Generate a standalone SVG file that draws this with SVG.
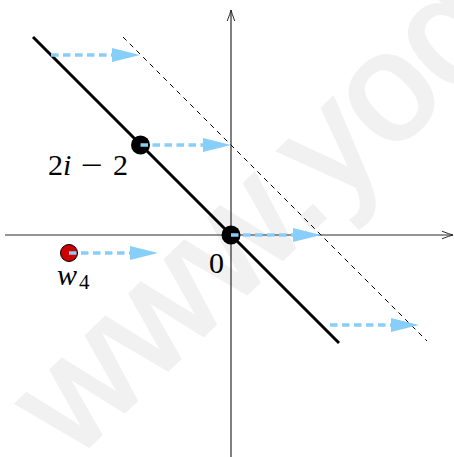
<svg xmlns="http://www.w3.org/2000/svg" width="454" height="457" viewBox="0 0 454 457">
  <style>
    .wm { font-family: "Liberation Sans", Arial, sans-serif; font-size: 152px; fill: #f1f1f1; stroke: #f1f1f1; stroke-width: 4; }
    .axis { stroke: #2a2a2a; stroke-width: 1.2; fill: none; }
    .solid { stroke: #000; stroke-width: 3; fill: none; }
    .thin { stroke: #000; stroke-width: 1; stroke-dasharray: 5 4.5; fill: none; }
    .shift { stroke: #87cefa; stroke-width: 3.5; stroke-dasharray: 7.5 4.5; fill: none; }
    .dot { fill: #000; }
    .red { fill: #cc0000; stroke: #000; stroke-width: 1; }
    .lbl { font-family: "Liberation Serif", "Times New Roman", serif; font-size: 30px; fill: #000; }
    .it { font-style: italic; }
  </style>
  <defs>
    <marker id="blueHead" markerUnits="userSpaceOnUse" markerWidth="30" markerHeight="16" viewBox="0 0 28 16" refX="8" refY="8" orient="auto">
      <path d="M0,1 L28,8 L0,15 z" fill="#87cefa"/>
    </marker>
    <marker id="axisHead" markerUnits="userSpaceOnUse" markerWidth="14" markerHeight="10" viewBox="-12 -5 14 10" refX="0" refY="0" orient="auto">
      <path d="M-11,-3.8 Q-4,-1 0,0 Q-4,1 -11,3.8" stroke="#2a2a2a" stroke-width="1" fill="none"/>
    </marker>
  </defs>

  <text class="wm" transform="translate(73,461) rotate(-44)">www.yog</text>

  <g id="connectors">
    <line class="axis" x1="5" y1="235" x2="453" y2="235" marker-end="url(#axisHead)"/>
    <line class="axis" x1="231" y1="457" x2="231" y2="10" marker-end="url(#axisHead)"/>
    <line class="thin" x1="123" y1="37" x2="427" y2="341"/>
    <line class="solid" x1="33" y1="37" x2="339" y2="343"/>
    <line class="shift" x1="51" y1="55" x2="120" y2="55" marker-end="url(#blueHead)"/>
    <line class="shift" x1="140.5" y1="145" x2="211" y2="145" marker-end="url(#blueHead)"/>
    <line class="shift" x1="231" y1="235" x2="301" y2="235" marker-end="url(#blueHead)"/>
    <line class="shift" x1="69" y1="253" x2="138" y2="253" marker-end="url(#blueHead)"/>
    <line class="shift" x1="330" y1="325" x2="399" y2="325" marker-end="url(#blueHead)"/>
  </g>

  <g id="node-2i-2">
    <circle class="dot" cx="140.5" cy="145" r="9.5"/>
    <line class="shift" x1="140.5" y1="145" x2="148" y2="145" stroke-dasharray="none"/>
    <text class="lbl" font-family="Liberation Serif, serif" y="175"><tspan x="48">2</tspan><tspan class="it" x="63">i</tspan><tspan x="81" textLength="22" lengthAdjust="spacingAndGlyphs">−</tspan><tspan x="113">2</tspan></text>
  </g>

  <g id="node-0">
    <circle class="dot" cx="231" cy="235" r="9.5"/>
    <line class="shift" x1="231" y1="235" x2="238.5" y2="235" stroke-dasharray="none"/>
    <text class="lbl" font-family="Liberation Serif, serif" x="209" y="273">0</text>
  </g>

  <g id="node-w4">
    <circle class="red" cx="69" cy="253" r="8.5"/>
    <line class="shift" x1="69" y1="253" x2="76.5" y2="253" stroke-dasharray="none"/>
    <text class="lbl" font-family="Liberation Serif, serif" y="285"><tspan class="it" x="57">w</tspan><tspan x="79" y="289" font-size="21">4</tspan></text>
  </g>
</svg>
